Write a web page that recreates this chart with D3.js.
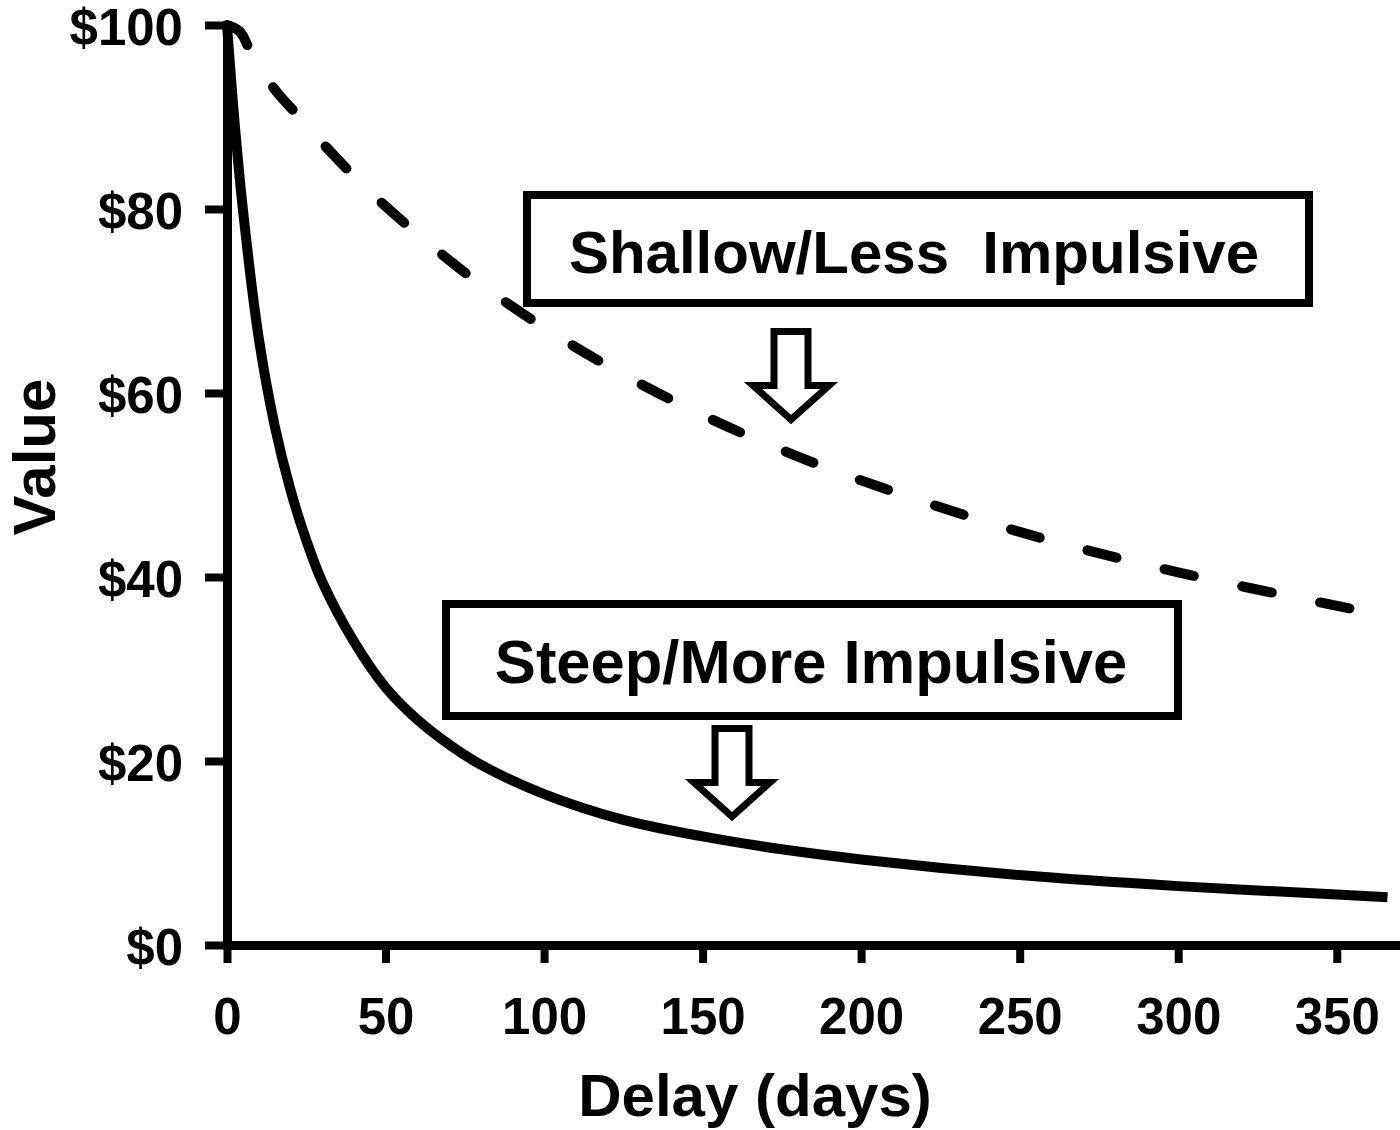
<!DOCTYPE html>
<html>
<head>
<meta charset="utf-8">
<script src="https://cdn.jsdelivr.net/npm/d3@7"></script>
<style>
  html, body { margin: 0; padding: 0; background: #fff; }
  svg { display: block; }
  text { font-family: "Liberation Sans", Arial, sans-serif; font-weight: bold; fill: #000; }
</style>
</head>
<body>
<svg id="chart" width="1400" height="1130"></svg>
<script>
// ---- data ----
const xTicks = [0, 50, 100, 150, 200, 250, 300, 350];
const yTicks = [0, 20, 40, 60, 80, 100];

const steepDelays = [0, 2, 5, 10, 15, 20, 25, 30, 40, 50, 60, 70, 80, 100, 125, 150, 175, 200, 250, 300, 350, 366];
const steepValues = [100, 91, 80, 66, 56.5, 49.5, 44, 39.5, 33, 28, 24.5, 21.8, 19.6, 16.4, 13.6, 11.8, 10.4, 9.3, 7.6, 6.4, 5.5, 5.2];

const shallowDelays = [0, 4, 7, 10, 16, 22, 30, 40, 50, 75, 100, 125, 150, 175, 200, 250, 300, 354];
const shallowValues = [100, 99.3, 97.4, 95.4, 92.6, 90.3, 87.2, 83.6, 80.3, 73.1, 67.1, 62.0, 57.6, 53.8, 50.5, 44.9, 40.5, 36.6];

const labels = ["Shallow/Less  Impulsive", "Steep/More Impulsive"];

// ---- drawing ----
const svg = d3.select("#chart");
const x = d3.scaleLinear().domain([0, 369]).range([227, 1397]);
const y = d3.scaleLinear().domain([0, 100]).range([945, 25]);

const line = d3.line().x(d => x(d[0])).y(d => y(d[1])).curve(d3.curveCatmullRom.alpha(0.5));

const steep = steepDelays.map((d, i) => [d, steepValues[i]]);
const shallow = shallowDelays.map((d, i) => [d, shallowValues[i]]);

const dashed = svg.append("path").datum(shallow)
  .attr("d", line).attr("fill", "none").attr("stroke", "#000")
  .attr("stroke-width", 10).attr("stroke-linecap", "round");
// fit the dash pattern so it starts and ends with a dash
const L = dashed.node().getTotalLength();
const dashCore = 30;
const n = Math.max(1, Math.round((L - dashCore) / 78));
const period = (L - dashCore) / n;
dashed.attr("stroke-dasharray", `${dashCore},${period - dashCore}`);

svg.append("path").datum(steep)
  .attr("d", line).attr("fill", "none").attr("stroke", "#000")
  .attr("stroke-width", 10).attr("stroke-linecap", "butt");

// axes
const xAxis = d3.axisBottom(x).tickValues(xTicks).tickSize(18).tickSizeOuter(0).tickPadding(34).tickFormat(d3.format("d"));
const yAxis = d3.axisLeft(y).tickValues(yTicks).tickSize(22).tickSizeOuter(0).tickPadding(22).tickFormat(d => "$" + d);

const gx = svg.append("g").attr("transform", `translate(0,${y(0)})`).call(xAxis);
const gy = svg.append("g").attr("transform", `translate(${x(0)},0)`).call(yAxis);

[gx, gy].forEach(g => {
  g.select(".domain").attr("stroke", "#000").attr("stroke-width", 9).attr("stroke-linecap", "square");
  g.selectAll(".tick line").attr("stroke", "#000").attr("stroke-width", 8);
  g.selectAll(".tick text").attr("font-family", '"Liberation Sans", Arial, sans-serif').attr("font-weight", "bold").attr("fill", "#000");
});
gx.selectAll(".tick text").attr("font-size", 51).attr("dy", null).attr("y", 89).attr("dominant-baseline", "auto");
gy.selectAll(".tick text").attr("font-size", 51).attr("dy", "0.38em");

// axis titles
svg.append("text").attr("x", 755).attr("y", 1116).attr("text-anchor", "middle")
  .attr("font-size", 60).text("Delay (days)");
svg.append("text").attr("transform", "translate(55,457) rotate(-90)").attr("text-anchor", "middle")
  .attr("font-size", 60).text("Value");

// annotation boxes
const boxes = [
  { x0: 527, x1: 1309, y0: 195, y1: 303, tx: 914, ty: 273, size: 60, label: labels[0] },
  { x0: 446, x1: 1178, y0: 604, y1: 716, tx: 811, ty: 683, size: 61.5, label: labels[1] }
];
boxes.forEach(b => {
  svg.append("rect").attr("x", b.x0).attr("y", b.y0).attr("width", b.x1 - b.x0).attr("height", b.y1 - b.y0)
    .attr("fill", "#fff").attr("stroke", "#000").attr("stroke-width", 8);
  svg.append("text").attr("x", b.tx).attr("y", b.ty).attr("text-anchor", "middle")
    .attr("font-size", b.size).style("white-space", "pre").text(b.label);
});

// hollow down arrows
const arrows = [ { cx: 791, top: 331.5 }, { cx: 732, top: 728.5 } ];
arrows.forEach(a => {
  const sw = 17, hw = 38, hb = 54, tip = 88;
  const p = d3.path();
  p.moveTo(a.cx - sw, a.top);
  p.lineTo(a.cx + sw, a.top);
  p.lineTo(a.cx + sw, a.top + hb);
  p.lineTo(a.cx + hw, a.top + hb);
  p.lineTo(a.cx, a.top + tip);
  p.lineTo(a.cx - hw, a.top + hb);
  p.lineTo(a.cx - sw, a.top + hb);
  p.closePath();
  svg.append("path").attr("d", p.toString()).attr("fill", "#fff").attr("stroke", "#000")
    .attr("stroke-width", 7).attr("stroke-linejoin", "miter");
});
</script>
</body>
</html>
